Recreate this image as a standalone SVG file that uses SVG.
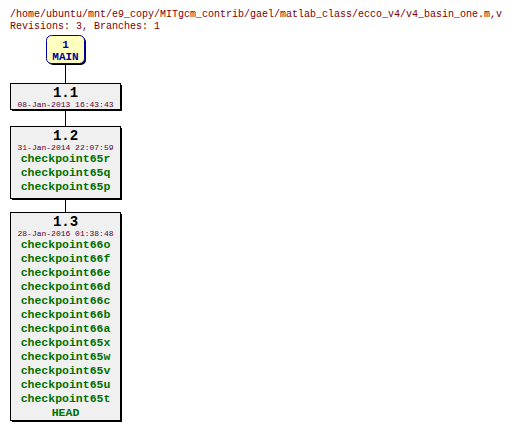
<svg xmlns="http://www.w3.org/2000/svg" width="512" height="433" viewBox="0 0 512 433">
<style>
.hdr{font-family:"Liberation Mono","DejaVu Sans Mono",monospace;font-size:10px;fill:#800000}
.box{fill:#f0f0f0;stroke:#000;stroke-width:1}
.sh{fill:#000}
.rev{font-family:"Liberation Mono","DejaVu Sans Mono",monospace;font-size:14px;font-weight:bold;fill:#000;text-anchor:middle}
.date{font-family:"Liberation Mono","DejaVu Sans Mono",monospace;font-size:8px;fill:#600030;text-anchor:middle}
.tag{font-family:"Liberation Mono","DejaVu Sans Mono",monospace;font-size:11.5px;font-weight:bold;fill:#007000;text-anchor:middle}
.br{font-family:"Liberation Mono","DejaVu Sans Mono",monospace;font-size:11px;font-weight:bold;fill:#0000a0;text-anchor:middle}
</style>
<rect width="512" height="433" fill="#fff"/>
<text class="hdr" x="10" y="17">/home/ubuntu/mnt/e9_copy/MITgcm_contrib/gael/matlab_class/ecco_v4/v4_basin_one.m,v</text>
<text class="hdr" x="10" y="29">Revisions: 3, Branches: 1</text>
<g id="connectors" stroke="#000" stroke-width="1">
<line x1="65.5" y1="63" x2="65.5" y2="83"/>
<line x1="65.5" y1="110" x2="65.5" y2="126"/>
<line x1="65.5" y1="199" x2="65.5" y2="212"/>
</g>
<g id="main">
<rect x="48" y="37" width="38" height="28" rx="5" class="sh"/>
<rect x="46.5" y="35.5" width="38" height="28" rx="5" fill="#ffffc0" stroke="#0000a0" stroke-width="1"/>
<text class="br" x="65.5" y="48">1</text>
<text class="br" x="65.5" y="60">MAIN</text>
</g>
<g id="r1_1">
<rect x="12" y="85" width="110" height="26" class="sh"/>
<rect x="10.5" y="83.5" width="110" height="26" class="box"/>
<text class="rev" x="65.5" y="96.5">1.1</text>
<text class="date" x="65.5" y="106.5">08-Jan-2013 16:43:43</text>
</g>
<g id="r1_2">
<rect x="12" y="128" width="110" height="72" class="sh"/>
<rect x="10.5" y="126.5" width="110" height="72" class="box"/>
<text class="rev" x="65.5" y="140">1.2</text>
<text class="date" x="65.5" y="150">31-Jan-2014 22:07:59</text>
<text class="tag" x="65.5" y="162">checkpoint65r</text>
<text class="tag" x="65.5" y="176">checkpoint65q</text>
<text class="tag" x="65.5" y="190">checkpoint65p</text>
</g>
<g id="r1_3">
<rect x="12" y="214" width="110" height="208" class="sh"/>
<rect x="10.5" y="212.5" width="110" height="208" class="box"/>
<text class="rev" x="65.5" y="226">1.3</text>
<text class="date" x="65.5" y="236">28-Jan-2016 01:38:48</text>
<text class="tag" x="65.5" y="248">checkpoint66o</text>
<text class="tag" x="65.5" y="262">checkpoint66f</text>
<text class="tag" x="65.5" y="276">checkpoint66e</text>
<text class="tag" x="65.5" y="290">checkpoint66d</text>
<text class="tag" x="65.5" y="304">checkpoint66c</text>
<text class="tag" x="65.5" y="318">checkpoint66b</text>
<text class="tag" x="65.5" y="332">checkpoint66a</text>
<text class="tag" x="65.5" y="346">checkpoint65x</text>
<text class="tag" x="65.5" y="360">checkpoint65w</text>
<text class="tag" x="65.5" y="374">checkpoint65v</text>
<text class="tag" x="65.5" y="388">checkpoint65u</text>
<text class="tag" x="65.5" y="402">checkpoint65t</text>
<text class="tag" x="65.5" y="416">HEAD</text>
</g>
</svg>
